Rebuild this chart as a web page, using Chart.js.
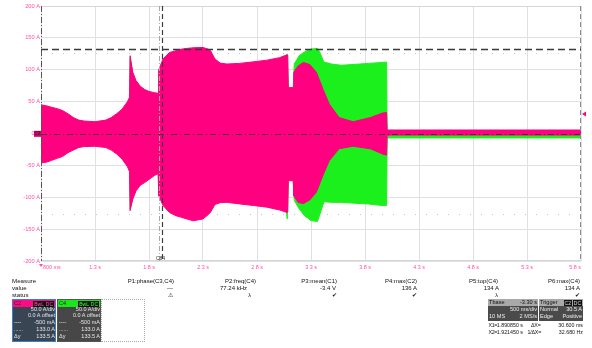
<!DOCTYPE html>
<html>
<head>
<meta charset="utf-8">
<script src="https://cdn.jsdelivr.net/npm/chart.js@4/dist/chart.umd.min.js"></script>
<style>
  html, body { margin: 0; padding: 0; background: #fff; }
  body { width: 592px; height: 348px; position: relative; overflow: hidden;
         font-family: "Liberation Sans", Arial, sans-serif; }
  #c { position: absolute; left: 0; top: 0; }
  .t { position: absolute; white-space: nowrap; line-height: 1; }
  .box { position: absolute; box-sizing: border-box; }
  .badge { position: absolute; background: #111; line-height: 6px; height: 6px; font-size: 5px; padding: 0 1px; }
</style>
</head>
<body>
<canvas id="c" width="592" height="348"></canvas>
<div id="panel"></div>

<script>
// Time axis (s) and current axis (A)
const timeMin = 0.8, timeMax = 5.8, timeStep = 0.5;
const ampMin = -200, ampMax = 200, ampStep = 50;

// C2 envelope (pink): time, upper and lower extremes in A
const c2Time  = [0.80, 0.85, 0.90, 0.95, 1.00, 1.05, 1.10, 1.15, 1.20, 1.30, 1.40, 1.45, 1.50, 1.55, 1.60, 1.62,
                 1.625, 1.65, 1.68, 1.72, 1.76, 1.80, 1.85, 1.885,
                 1.89, 1.93, 1.99, 2.05, 2.09, 2.15, 2.21, 2.30, 2.35, 2.37, 2.41, 2.46, 2.52, 2.64, 2.77, 2.89, 3.01, 3.07, 3.085,
                 3.09, 3.135,
                 3.14, 3.18, 3.23, 3.29, 3.35, 3.41, 3.47, 3.56, 3.69, 3.85, 3.96, 4.00,
                 4.005, 5.80];
const c2Upper = [45, 43.5, 41, 39, 36, 31, 25, 21, 19.5, 18.5, 21, 25, 31, 38, 50, 57,
                 122, 96, 83, 74, 69, 66, 64, 63,
                 100, 117, 127, 130, 132, 133.5, 134.5, 135, 132, 130, 117, 110.5, 109, 110, 112.5, 115, 119, 123, 123,
                 72, 72,
                 96, 106, 111.5, 108, 96, 70, 46, 25, 18.5, 25, 32, 33,
                 5.5, 5.5];
const c2Lower = [-46, -45, -42, -39, -36, -30, -26, -22, -20.5, -20, -22, -26, -32, -40, -52, -60,
                 -121, -103, -90, -81, -77, -72, -66, -63,
                 -97.5, -113, -124, -129, -131, -134, -137, -134, -127, -123.5, -111.5, -108.5, -108, -110.5, -113, -115.5, -120, -123.5, -123.5,
                 -74, -74,
                 -97.5, -108, -110, -104, -92, -66, -42.5, -24, -20, -24, -32, -34,
                 -2.5, -2.5];

// C4 envelope (green), drawn beneath C2
const c4Time  = [0.80, 0.90, 1.00, 1.10, 1.20, 1.30, 1.40, 1.50, 1.60, 1.62,
                 1.625, 1.65, 1.68, 1.72, 1.80, 1.885,
                 1.89, 1.93, 1.99, 2.09, 2.21, 2.30, 2.37, 2.41, 2.46, 2.64, 2.89, 3.07, 3.08, 3.085,
                 3.09, 3.135,
                 3.145, 3.19, 3.24, 3.30, 3.36, 3.38, 3.42, 3.49, 3.58, 3.71, 3.83, 3.96, 4.00,
                 4.005, 5.80];
const c4Upper = [42, 38, 33, 22, 17, 16, 18, 28, 47, 54,
                 118, 93, 80, 71, 63, 60,
                 97, 114, 124, 129, 131.5, 132, 127, 114, 107, 107, 112, 120, 125, 125,
                 70, 70,
                 109, 122, 128, 132.5, 133.5, 128, 112, 109, 107, 108.5, 110, 111.5, 112,
                 3, 3];
const c4Lower = [-43, -39, -33, -23, -18, -17, -19, -29, -49, -57,
                 -118, -100, -87, -78, -69, -60,
                 -94, -110, -121, -128, -134, -131, -120, -108.5, -105, -107, -112.5, -120.5, -134, -134,
                 -72, -72,
                 -105, -118, -129, -136.5, -138, -128, -107, -108, -108, -109.5, -110.5, -113, -113,
                 -7, -7];

// Cursors and reference levels
const cursorX1 = 1.890850, cursorX2 = 1.921450;
const levelTop = 133.0, levelZero = -0.5, triggerLevel = 30.5;
const guideLevels = [126, -126];

// Measurement parameters
const measNames   = ['P1:phase(C3,C4)', 'P2:freq(C4)', 'P3:mean(C1)', 'P4:max(C2)', 'P5:top(C4)', 'P6:max(C4)'];
const measValues  = ['---', '77.24 kHz', '-3.4 V', '136 A', '134 A', '134 A'];
const measStatus  = ['⚠', 'λ', '✔', '✔', 'λ', '✔'];

const PINK = '#ff0080', GREEN = '#1cf01c', LABEL = '#ff4fa8';

// ---- readout panel below the graticule ----
const panel = document.getElementById('panel');
function txt(s, x, yc, opt) {
  opt = opt || {};
  const fs = opt.size || 6;
  const d = document.createElement('div');
  d.className = 't';
  d.textContent = s;
  d.style.fontSize = fs + 'px';
  d.style.color = opt.color || '#111';
  d.style.top = (yc - fs / 2) + 'px';
  if (opt.spacing) d.style.letterSpacing = opt.spacing + 'px';
  if (opt.align === 'right') { d.style.right = (592 - x) + 'px'; }
  else if (opt.align === 'center') { d.style.left = (x - 30) + 'px'; d.style.width = '60px'; d.style.textAlign = 'center'; }
  else { d.style.left = x + 'px'; }
  (opt.parent || panel).appendChild(d);
  return d;
}
function box(x, y, w, h, css) {
  const d = document.createElement('div');
  d.className = 'box';
  Object.assign(d.style, { left: x + 'px', top: y + 'px', width: w + 'px', height: h + 'px' }, css || {});
  panel.appendChild(d);
  return d;
}
function badge(s, right, y, color) {
  const b = document.createElement('div');
  b.className = 'badge';
  b.textContent = s;
  b.style.right = (592 - right) + 'px';
  b.style.top = y + 'px';
  b.style.color = color;
  panel.appendChild(b);
}

txt('Measure', 12, 281, { size: 6.2 });
txt('value', 12, 288.3, { size: 6.2 });
txt('status', 12, 295.3, { size: 6.2 });
const headRight  = [174, 256, 337, 417, 498, 580];
const valueRight = [173, 247, 336, 417, 499, 580];
const statRight  = [173, 251, 337, 417, 498, 580];
measNames.forEach((n, i) => {
  txt(n, headRight[i], 281, { size: 6, align: 'right' });
  txt(measValues[i], valueRight[i], 288.3, { size: 6, align: 'right' });
  txt(measStatus[i], statRight[i], 295.3, { size: 5.5, align: 'right' });
});

// channel descriptor boxes
const chanBoxes = [
  { name: 'C2', x: 12, head: '#ff0a84', body: '#3a4554', edge: '#3f7fc0', badge: '#ff5aa8' },
  { name: 'C4', x: 57, head: '#18e818', body: '#474747', edge: '#555555', badge: '#40ff40' }
];
const chanRows = [['', '50.0 A/div'], ['', '0.0 A offset'], ['----', '-500 mA'], ['......', '133.0 A'], ['Δy', '133.5 A']];
chanBoxes.forEach(c => {
  box(c.x, 299, 44, 43, { background: c.body, border: '1px solid ' + c.edge });
  box(c.x + 1, 300, 42, 7, { background: c.head });
  txt(c.name, c.x + 2, 303.5, { size: 5.5, color: '#222' });
  badge('BwL', c.x + 33, 300.5, c.badge);
  badge('DC', c.x + 42, 300.5, c.badge);
  chanRows.forEach((r, k) => {
    const yc = 309.3 + k * 6.9;
    if (r[0]) txt(r[0], c.x + 2, yc, { size: 5.5, color: '#e6e6e6' });
    txt(r[1], c.x + 43, yc, { size: 5.5, color: '#e6e6e6', align: 'right' });
  });
});
box(101, 299, 44, 43, { border: '1px dotted #aaa' });

// timebase and trigger boxes
box(488, 299, 50, 22, { background: '#4a4a4a' });
box(488, 299, 50, 7, { background: '#a9a9a9' });
txt('Tbase', 489, 302.5, { size: 5.6 });
txt('-3.30 s', 537, 302.5, { size: 5.6, align: 'right' });
txt('500 ms/div', 537, 309.5, { size: 5.6, color: '#eee', align: 'right' });
txt('10 MS', 489, 316.5, { size: 5.6, color: '#eee' });
txt('2 MS/s', 537, 316.5, { size: 5.6, color: '#eee', align: 'right' });
box(539, 299, 44, 22, { background: '#4a4a4a' });
box(539, 299, 44, 7, { background: '#a9a9a9' });
txt('Trigger', 540, 302.5, { size: 5.6 });
badge('C2', 572, 299.5, '#ddd');
badge('DC', 582, 299.5, '#ddd');
txt('Normal', 540, 309.5, { size: 5.6, color: '#eee' });
txt('30.5 A', 582, 309.5, { size: 5.6, color: '#eee', align: 'right' });
txt('Edge', 540, 316.5, { size: 5.6, color: '#eee' });
txt('Positive', 582, 316.5, { size: 5.6, color: '#eee', align: 'right' });

// cursor readouts
txt('X1=', 488.5, 325.7, { size: 5.3, spacing: -0.4 });
txt('1.890850 s', 523, 325.7, { size: 5.3, align: 'right' });
txt('ΔX=', 531, 325.7, { size: 5.3, spacing: -0.2 });
txt('30.600 ms', 583, 325.7, { size: 5.3, align: 'right' });
txt('X2=', 488.5, 332.2, { size: 5.3, spacing: -0.4 });
txt('1.921450 s', 523, 332.2, { size: 5.3, align: 'right' });
txt('1/ΔX=', 527.5, 332.2, { size: 5.3, spacing: -0.2 });
txt('32.680 Hz', 583, 332.2, { size: 5.3, align: 'right' });

// ---- waveform graticule ----
function pts(t, v) { return t.map((x, i) => ({ x: x, y: v[i] })); }

const traceStyle = (color) => ({
  borderColor: color, backgroundColor: color, borderWidth: 1,
  pointRadius: 0, tension: 0
});

// Custom overlays: borders, cursors, markers and time labels
const scopeOverlay = {
  id: 'scopeOverlay',
  beforeDatasetsDraw(chart) {
    const { ctx, chartArea: a, scales: { y } } = chart;
    ctx.save();
    ctx.strokeStyle = '#c4c4c4';
    ctx.lineWidth = 1;
    ctx.setLineDash([1, 10]);
    guideLevels.forEach(v => {
      const py = Math.round(y.getPixelForValue(v)) + 0.5;
      ctx.beginPath(); ctx.moveTo(a.left, py); ctx.lineTo(a.right, py); ctx.stroke();
    });
    ctx.restore();
  },
  afterDatasetsDraw(chart) {
    const { ctx, chartArea: a, scales: { x, y } } = chart;
    ctx.save();
    // frame
    ctx.lineWidth = 1;
    ctx.strokeStyle = '#d6d6d6';
    ctx.beginPath();
    ctx.moveTo(a.left, a.top + 0.5); ctx.lineTo(a.right, a.top + 0.5);
    ctx.moveTo(a.left, a.bottom - 0.5); ctx.lineTo(a.right, a.bottom - 0.5);
    ctx.stroke();
    ctx.strokeStyle = '#555';
    ctx.setLineDash([6, 2, 1, 2]);
    ctx.beginPath(); ctx.moveTo(a.left + 0.5, a.top); ctx.lineTo(a.left + 0.5, a.bottom); ctx.stroke();
    ctx.strokeStyle = '#8a8a8a';
    ctx.setLineDash([5, 3]);
    ctx.beginPath(); ctx.moveTo(a.right - 0.5, a.top); ctx.lineTo(a.right - 0.5, a.bottom); ctx.stroke();

    // horizontal cursor levels
    let py = Math.round(y.getPixelForValue(levelTop)) + 0.5;
    ctx.strokeStyle = '#3a3a3a';
    ctx.lineWidth = 1.3;
    ctx.setLineDash([7, 4]);
    ctx.beginPath(); ctx.moveTo(a.left, py); ctx.lineTo(a.right, py); ctx.stroke();
    py = Math.round(y.getPixelForValue(levelZero)) + 0.5;
    ctx.lineWidth = 1;
    ctx.strokeStyle = '#4a2a3a';
    ctx.setLineDash([6, 3, 1, 3]);
    ctx.beginPath(); ctx.moveTo(a.left, py); ctx.lineTo(a.right, py); ctx.stroke();

    // vertical time cursors
    let px = Math.round(x.getPixelForValue(cursorX1)) + 0.5;
    ctx.strokeStyle = '#a8a8a8';
    ctx.setLineDash([5, 2, 1, 2]);
    ctx.beginPath(); ctx.moveTo(px, a.top); ctx.lineTo(px, a.bottom); ctx.stroke();
    px = Math.round(x.getPixelForValue(cursorX2)) + 0.5;
    ctx.strokeStyle = '#3c3c3c';
    ctx.lineWidth = 1.2;
    ctx.setLineDash([5, 3]);
    ctx.beginPath(); ctx.moveTo(px, a.top); ctx.lineTo(px, a.bottom); ctx.stroke();
    ctx.setLineDash([]);
    ctx.fillStyle = '#333';
    ctx.font = '5px "Liberation Sans", Arial, sans-serif';
    ctx.textAlign = 'center';
    ctx.textBaseline = 'bottom';
    ctx.fillText('C84', (x.getPixelForValue(cursorX1) + x.getPixelForValue(cursorX2)) / 2, a.bottom);

    // channel marker (left) and trigger level marker (right)
    const zy = y.getPixelForValue(levelZero);
    ctx.fillStyle = '#d0006a';
    ctx.fillRect(a.left - 7, zy - 3, 7, 6);
    ctx.fillStyle = '#222';
    ctx.font = '4.5px "Liberation Sans", Arial, sans-serif';
    ctx.textBaseline = 'middle';
    ctx.fillText('C2', a.left - 3.5, zy);
    const ty = y.getPixelForValue(triggerLevel);
    ctx.fillStyle = PINK;
    ctx.beginPath();
    ctx.moveTo(a.right + 1, ty); ctx.lineTo(a.right + 5, ty - 2.5); ctx.lineTo(a.right + 5, ty + 2.5);
    ctx.closePath(); ctx.fill();

    // time tick labels
    ctx.fillStyle = LABEL;
    ctx.font = '5.4px "Liberation Sans", Arial, sans-serif';
    ctx.textBaseline = 'middle';
    const ticks = x.ticks;
    ticks.forEach((tk, i) => {
      const v = tk.value;
      const p = x.getPixelForValue(v);
      const label = Math.abs(v - timeMin) < 1e-9 ? Math.round(v * 1000) + ' ms' : v.toFixed(1) + ' s';
      ctx.textAlign = i === 0 ? 'left' : (i === ticks.length - 1 ? 'right' : 'center');
      ctx.fillText(label, i === 0 ? p + 2 : p, a.bottom + 7);
    });
    // start marker
    const sx = x.getPixelForValue(timeMin);
    ctx.beginPath();
    ctx.moveTo(sx - 2, a.bottom + 3); ctx.lineTo(sx + 2, a.bottom + 3); ctx.lineTo(sx, a.bottom + 6);
    ctx.closePath(); ctx.fill();
    ctx.restore();
  }
};

new Chart(document.getElementById('c'), {
  type: 'line',
  data: {
    datasets: [
      Object.assign({ label: 'C2 max', data: pts(c2Time, c2Upper), fill: false, order: 0 }, traceStyle(PINK)),
      Object.assign({ label: 'C2 min', data: pts(c2Time, c2Lower), fill: '-1', order: 0 }, traceStyle(PINK)),
      Object.assign({ label: 'C4 max', data: pts(c4Time, c4Upper), fill: false, order: 1 }, traceStyle(GREEN)),
      Object.assign({ label: 'C4 min', data: pts(c4Time, c4Lower), fill: '-1', order: 1 }, traceStyle(GREEN))
    ]
  },
  options: {
    responsive: false,
    animation: false,
    devicePixelRatio: 1,
    layout: { padding: { left: 0, top: 6, right: 11, bottom: 87 } },
    plugins: { legend: { display: false }, tooltip: { enabled: false } },
    scales: {
      x: {
        type: 'linear', min: timeMin, max: timeMax,
        ticks: { stepSize: timeStep, display: false },
        grid: { color: '#e0e0e0', drawTicks: false },
        border: { display: false },
        afterFit(s) { s.height = 0; }
      },
      y: {
        type: 'linear', min: ampMin, max: ampMax,
        ticks: {
          stepSize: ampStep, color: LABEL, padding: 1,
          font: { size: 5.7, family: '"Liberation Sans", Arial, sans-serif' },
          callback: v => v + ' A'
        },
        grid: { color: '#e0e0e0', drawTicks: false },
        border: { display: false },
        afterFit(s) { s.width = 41; }
      }
    }
  },
  plugins: [scopeOverlay]
});
</script>
</body>
</html>
